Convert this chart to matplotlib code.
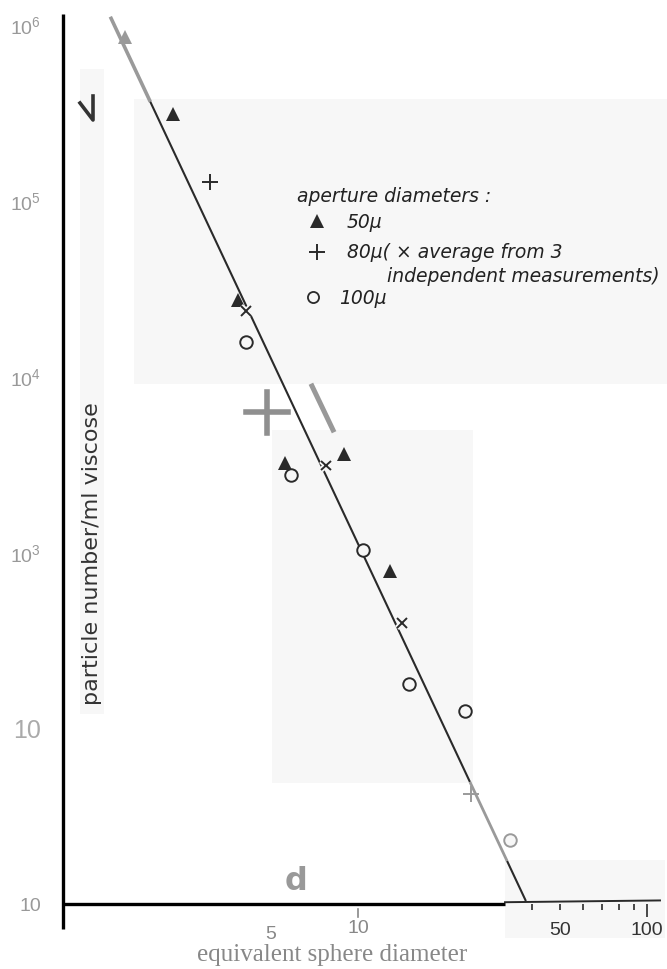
import numpy as np
import matplotlib
matplotlib.use("Agg")
import matplotlib.pyplot as plt
import matplotlib.patheffects as pe
from matplotlib.patches import Rectangle
from matplotlib.ticker import NullLocator

# Data (diameter in micron, particles per ml)
tri_d = [1.56, 2.29, 3.84, 5.59, 8.94, 12.9]          # 50 micron aperture
tri_n = [8.4e5, 3.1e5, 2.7e4, 3.2e3, 3.6e3, 780]
plus_d = [3.08, 24.6]                                  # 80 micron aperture
plus_n = [1.26e5, 42]
avg_d = [4.10, 7.75, 14.2]                             # 80 micron, average of 3
avg_n = [2.34e4, 3.1e3, 395]
circ_d = [4.10, 5.86, 10.4, 15.0, 23.4, 33.6]          # 100 micron aperture
circ_n = [1.56e4, 2.74e3, 1.03e3, 178, 125, 23]

# fitted straight line (end points) and where its colour changes
line_d = [1.39, 38.1]
line_n = [1.1e6, 10.4]
line_breaks = [1.39, 1.91, 24.4, 32.8, 38.1]

ytick_vals = [1e6, 1e5, 1e4, 1e3, 1e2, 1e1]
ytick_labels = [r"$\mathregular{10^6}$", r"$\mathregular{10^5}$", r"$\mathregular{10^4}$",
                r"$\mathregular{10^3}$", "10", "10"]
xtick_vals = [40, 50, 60, 70, 80, 90, 100]
xtick_labels = ["", "50", "", "", "", "", "100"]

W, H = 667, 970
DARK = "#2a2a2a"
GREY = "#9a9a9a"
BOX = "#f7f7f7"

plt.rcParams['mathtext.fontset'] = 'custom'
plt.rcParams['mathtext.rm'] = 'Liberation Sans'

fig = plt.figure(figsize=(W / 100, H / 100), dpi=100)


def fx(x):
    return x / W


def fy(y):
    return 1 - y / H


# light grey patches behind parts of the scan
for x0, y0, x1, y1 in [(80, 70, 104, 715), (134, 100, 667, 385),
                       (272, 431, 473, 784), (505, 861, 665, 939)]:
    fig.add_artist(Rectangle((fx(x0), fy(y1)), (x1 - x0) / W, (y1 - y0) / H,
                             transform=fig.transFigure, color=BOX, lw=0, zorder=0))

ax = fig.add_axes([fx(63), fy(905), (W - 63) / W, 890 / H])
ax.patch.set_alpha(0)
ax.set_xscale("log")
ax.set_yscale("log")
ax.set_xlim(10 ** (-6 / 289), 10 ** (598 / 289))
ax.set_ylim(10, 10 ** (1 + 890 / 176))
for s in ax.spines.values():
    s.set_visible(False)

# fitted line, drawn piecewise grey / black
k = np.log(line_n[1] / line_n[0]) / np.log(line_d[1] / line_d[0])
seg_colors = [GREY, DARK, GREY, DARK]
seg_widths = [2.6, 1.5, 2.0, 1.5]
for i in range(len(line_breaks) - 1):
    d = np.array([line_breaks[i], line_breaks[i + 1]])
    n = line_n[0] * (d / line_d[0]) ** k
    ax.plot(d, n, color=seg_colors[i], lw=seg_widths[i], solid_capstyle="butt", zorder=2)

halo = [pe.withStroke(linewidth=4, foreground=BOX)]


def colours(n, faded):
    return [GREY if i in faded else DARK for i in range(n)]


for d, n, c in zip(tri_d, tri_n, colours(len(tri_d), [0])):
    ax.plot(d, n, "^", ms=10, color=c, mew=0, zorder=3)
for d, n, c in zip(plus_d, plus_n, colours(len(plus_d), [1])):
    ax.plot(d, n, "+", ms=11, color=c, mew=1.4, zorder=3)
ax.plot(avg_d, avg_n, "x", ms=7, color=DARK, mew=1.4, zorder=4, path_effects=halo)
for d, n, c in zip(circ_d, circ_n, colours(len(circ_d), [5])):
    ax.plot(d, n, "o", ms=9, mec=c, mfc=BOX, mew=1.4, zorder=3)

# axes lines
ax.plot([0, 0], [-25 / 890, 1], transform=ax.transAxes, color="black", lw=2.4,
        clip_on=False, solid_capstyle="butt")
ax.plot([0, (505 - 63) / 604], [0, 0], transform=ax.transAxes, color="black", lw=2.4,
        clip_on=False, solid_capstyle="butt")
ax.plot([(505 - 63) / 604, (660 - 63) / 604], [0.002, 0.004], transform=ax.transAxes,
        color=DARK, lw=1.4, clip_on=False)

# ticks
ax.xaxis.set_minor_locator(NullLocator())
ax.yaxis.set_minor_locator(NullLocator())
ax.set_xticks(xtick_vals, xtick_labels)
ax.tick_params(axis="x", direction="out", length=4, width=1.2, color=DARK, pad=8,
               labelsize=14, labelcolor="#333333")
for lab in ax.get_xticklabels():
    lab.set_fontfamily("Liberation Sans")
ax.xaxis.get_major_ticks()[-1].tick1line.set_markersize(9)

ax.set_yticks(ytick_vals, ytick_labels)
ax.tick_params(axis="y", length=0, pad=16, labelsize=14, labelcolor="#999999")
for lab in ax.get_yticklabels():
    lab.set_fontfamily("Liberation Sans")
ylabs = ax.get_yticklabels()
ylabs[4].set_fontsize(18)
ylabs[4].set_color("#aaaaaa")

xb = ax.get_xaxis_transform()
ax.text(5, -0.033, "5", transform=xb, ha="center", va="center", fontsize=14,
        color="#888888", family="Liberation Sans")
ax.text(10, -0.026, "10", transform=xb, ha="center", va="center", fontsize=14,
        color="#888888", family="Liberation Sans")
ax.plot([10, 10], [-0.0056, -0.0146], transform=xb, color="#888888", lw=1.2, clip_on=False)

fig.text(fx(332), fy(955), "equivalent sphere diameter", ha="center", va="center",
         fontsize=18, color="#888888", family="Liberation Serif")
fig.text(fx(92), fy(554), "particle number/ml viscose", rotation=90, ha="center",
         va="center", fontsize=16, color="#333333")

# legend
lt = dict(fontsize=13.5, style="italic", color="#222222", va="center", ha="left")
fig.text(fx(297), fy(197), "aperture diameters :", **lt)
fig.text(fx(347), fy(223), "50µ", **lt)
fig.text(fx(347), fy(253), "80µ( × average from 3", **lt)
fig.text(fx(387), fy(277), "independent measurements)", **lt)
fig.text(fx(339), fy(298), "100µ", **lt)
ax.plot([fx(317)], [fy(222)], "^", ms=10, color=DARK, mew=0, transform=fig.transFigure, clip_on=False)
ax.plot([fx(317)], [fy(253)], "+", ms=11, color=DARK, mew=1.4, transform=fig.transFigure, clip_on=False)
ax.plot([fx(313)], [fy(298)], "o", ms=8, mec=DARK, mfc=BOX, mew=1.3, transform=fig.transFigure, clip_on=False)

# stray marks of the scan
fig.add_artist(plt.Line2D([fx(312), fx(333)], [fy(387), fy(431)], color="#999999", lw=3.6))
fig.add_artist(plt.Line2D([fx(246), fx(288)], [fy(413), fy(413)], color="#8f8f8f", lw=4))
fig.add_artist(plt.Line2D([fx(267), fx(267)], [fy(393), fy(434)], color="#8f8f8f", lw=4))
fig.add_artist(plt.Line2D([fx(80), fx(93), fx(93)], [fy(104), fy(121), fy(97)], color="#333333", lw=2.6))
fig.text(fx(296), fy(882), "d", ha="center", va="center", fontsize=23, fontweight="bold",
         color="#999999")

fig.savefig("out.png", dpi=100)
